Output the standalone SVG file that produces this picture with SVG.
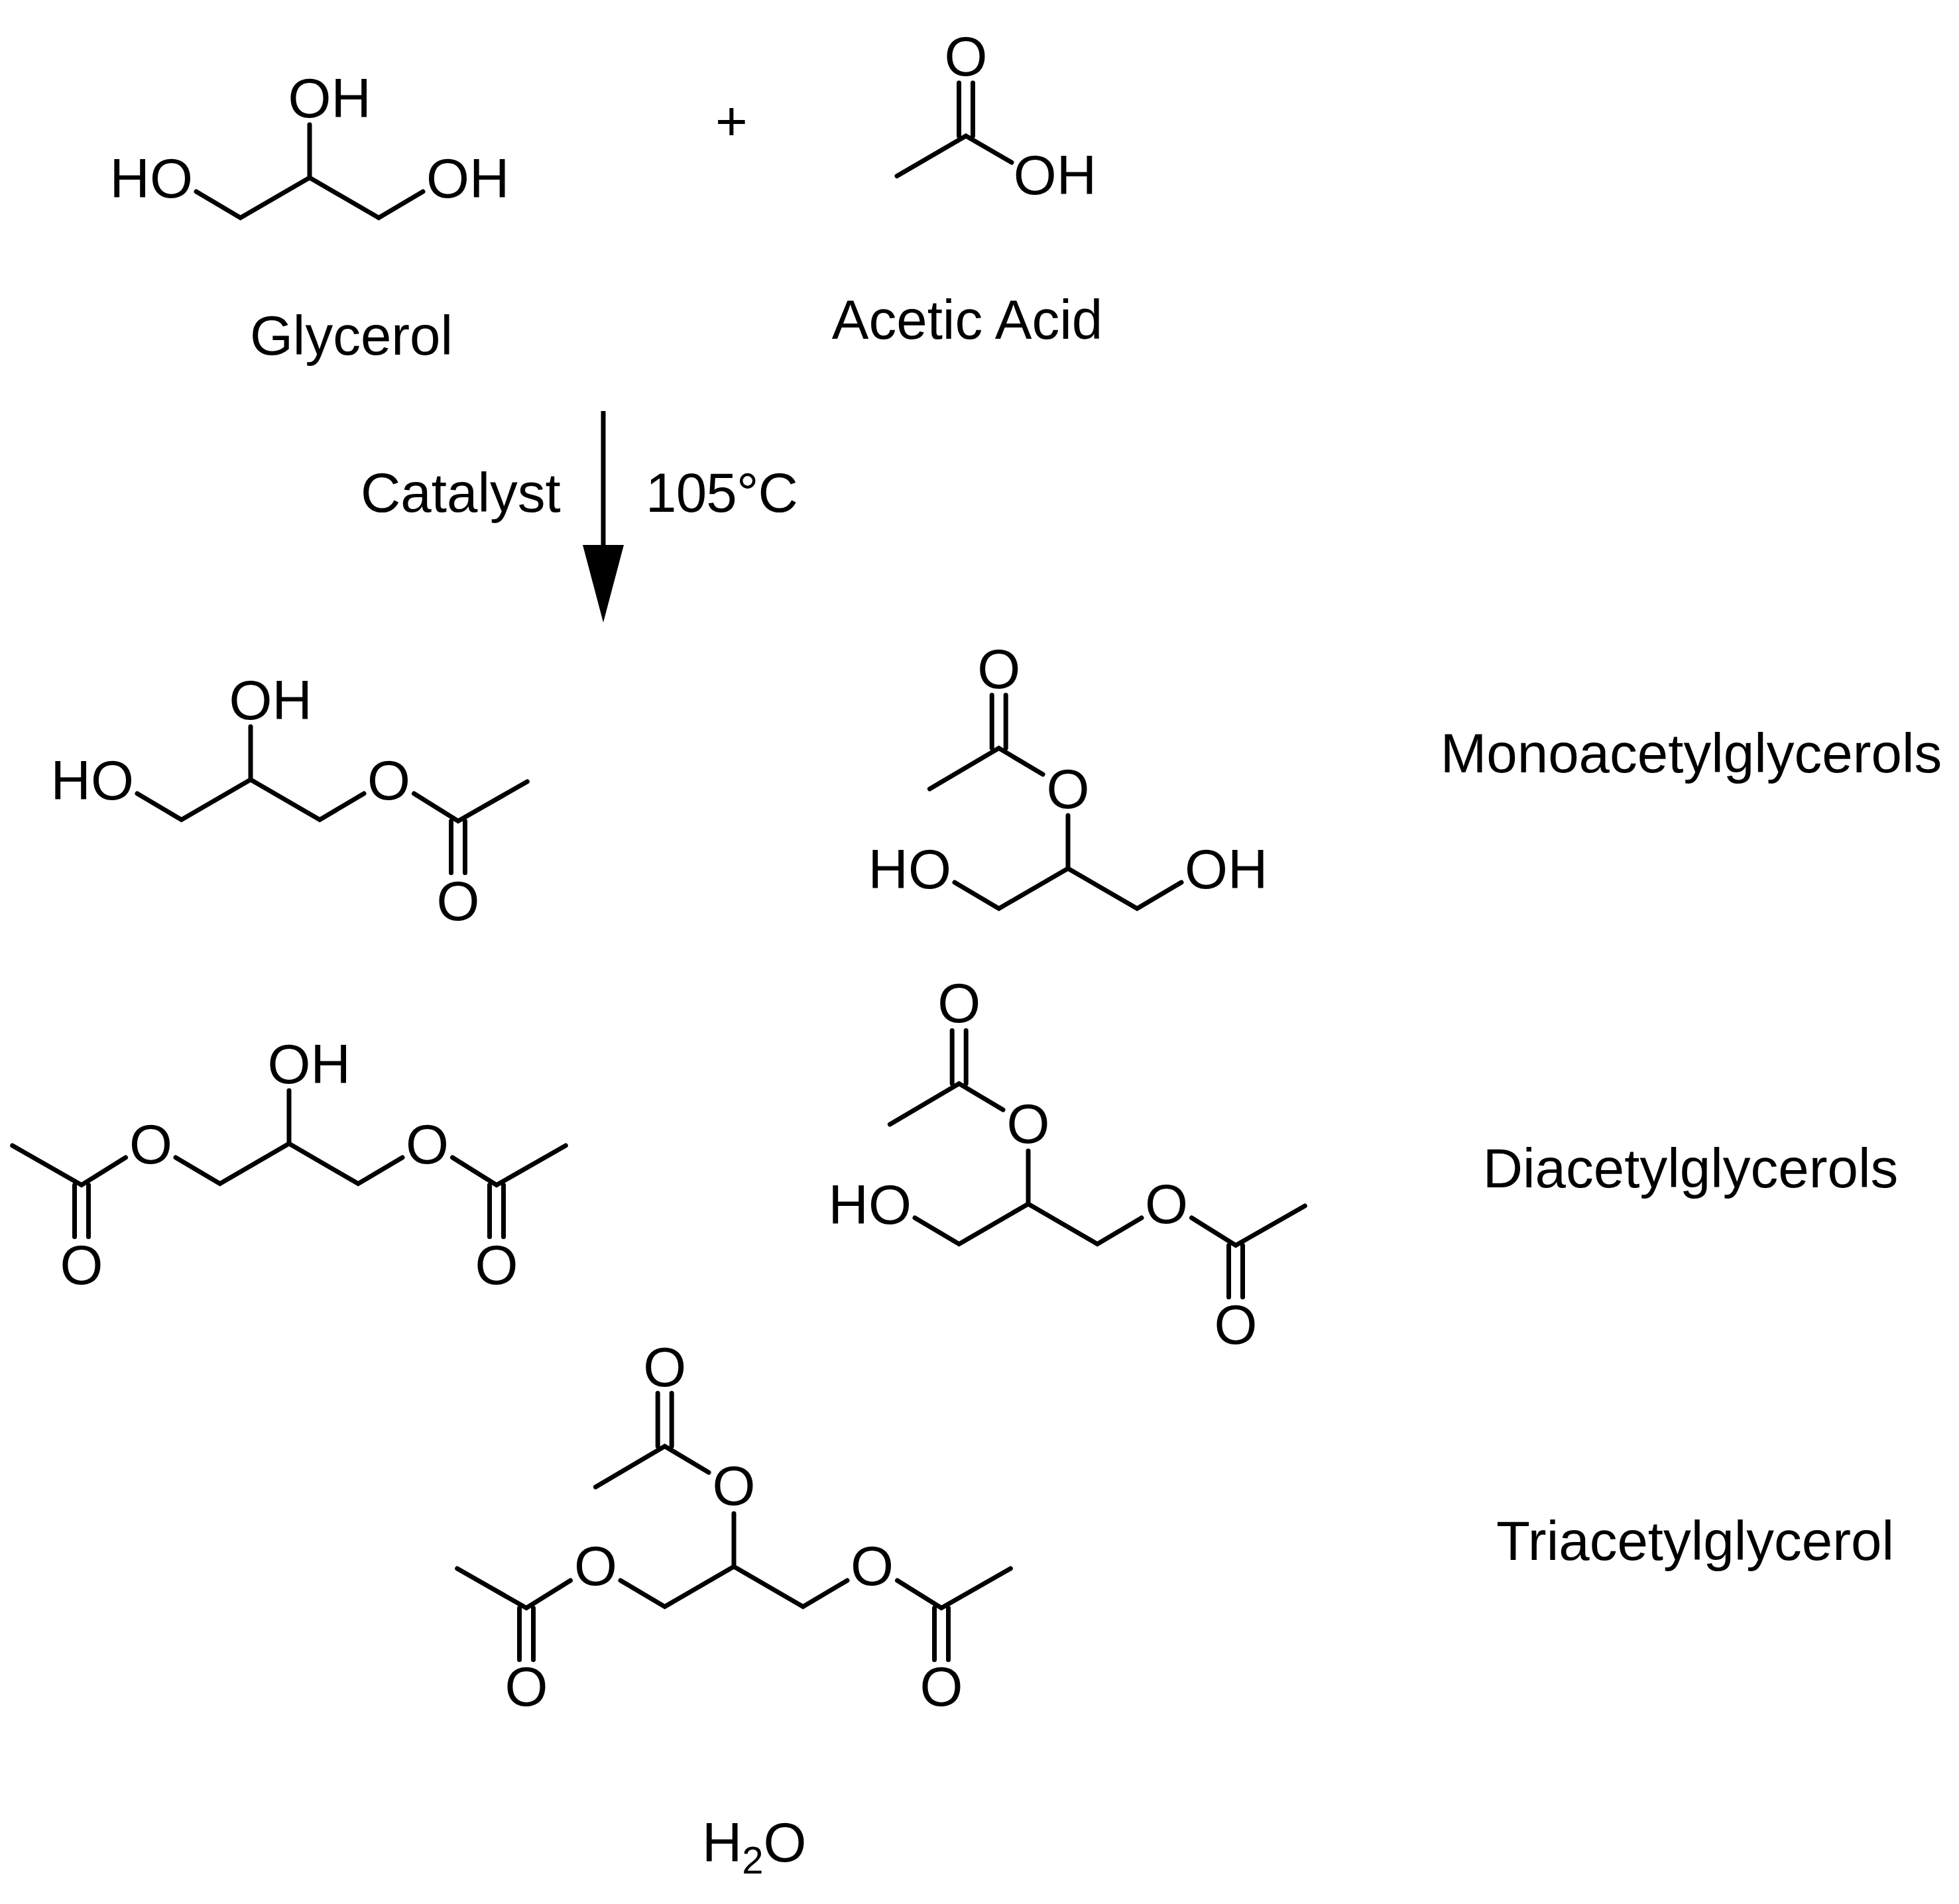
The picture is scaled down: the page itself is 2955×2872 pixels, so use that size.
<svg xmlns="http://www.w3.org/2000/svg" width="2955" height="2872" viewBox="0 0 2955 2872">
<defs>
<style>
text{font-family:"Liberation Sans",Arial,sans-serif;font-size:83.5px;fill:#000}
.m{text-anchor:middle}
.b{fill:none;stroke:#000;stroke-width:7;stroke-linejoin:miter;stroke-linecap:round}
.sub{font-size:58px}
</style>
<marker id="head" markerUnits="userSpaceOnUse" markerWidth="117" markerHeight="62" refX="0" refY="31" orient="auto" viewBox="0 0 117 62"><path d="M0,0L117,31L0,62Z" fill="#000"/></marker>
</defs>
<rect width="2955" height="2872" fill="#fff"/>
<g id="connectors"><path class="b" d="M910,620V822" marker-end="url(#head)" style="stroke-linecap:butt"/></g>
<g id="glycerol"><path class="b" d="M296,289L362.7,328.5L467,268L571.3,328.5L638,289M467,268V188"/>
<text x="434.5" y="177">OH</text><text x="165.6" y="298">HO</text><text x="643.1" y="298">OH</text>
<text class="m" x="530" y="535">Glycerol</text></g>
<g id="plus"><text class="m" x="1103.5" y="211">+</text></g>
<g id="acetic-acid"><path class="b" d="M1353,265.5L1457,205L1526,245M1446.5,205V125M1467.5,205V125"/>
<text class="m" x="1457" y="114">O</text><text x="1528.8" y="293">OH</text>
<text class="m" x="1459" y="511">Acetic Acid</text></g>
<g id="conditions"><text x="544" y="772">Catalyst</text><text x="974" y="772" letter-spacing="-0.8">105°C</text></g>
<g id="monoacetyl-1"><path class="b" d="M207,1197L273.7,1236.5L378,1176L482.3,1236.5L549,1197M378,1176V1096M624.5,1197L691,1238.5L795.3,1179M680.5,1238.5V1316.5M701.5,1238.5V1316.5"/>
<text x="345.5" y="1085">OH</text><text x="76.6" y="1206">HO</text><text class="m" x="586.6" y="1206">O</text><text class="m" x="691" y="1387.5">O</text></g>
<g id="monoacetyl-2"><path class="b" d="M1440,1331L1506.7,1370.5L1611,1310L1715.3,1370.5L1782,1331M1611,1310V1230M1573,1168L1506.7,1128.5L1402.4,1190M1496.2,1128.5V1048.5M1517.2,1128.5V1048.5"/>
<text class="m" x="1611" y="1219">O</text><text class="m" x="1506.7" y="1037.5">O</text><text x="1309.6" y="1340">HO</text><text x="1787.1" y="1340">OH</text></g>
<g id="label-mono"><text class="m" x="2551" y="1165">Monoacetylglycerols</text></g>
<g id="diacetyl-1"><path class="b" d="M265,1746L331.7,1785.5L436,1725L540.3,1785.5L607,1746M436,1725V1645M682.5,1746L749,1787.5L853.3,1728M738.5,1787.5V1865.5M759.5,1787.5V1865.5M189.5,1746L123,1787.5L18.7,1728M112.5,1787.5V1865.5M133.5,1787.5V1865.5"/>
<text x="403.5" y="1634">OH</text><text class="m" x="227.4" y="1755">O</text><text class="m" x="644.6" y="1755">O</text><text class="m" x="123" y="1936.5">O</text><text class="m" x="749" y="1936.5">O</text></g>
<g id="diacetyl-2"><path class="b" d="M1380,1837L1446.7,1876.5L1551,1816L1655.3,1876.5L1722,1837M1551,1816V1736M1797.5,1837L1864,1878.5L1968.3,1819M1853.5,1878.5V1956.5M1874.5,1878.5V1956.5M1513,1674L1446.7,1634.5L1342.4,1696M1436.2,1634.5V1554.5M1457.2,1634.5V1554.5"/>
<text class="m" x="1551" y="1724">O</text><text class="m" x="1446.7" y="1542">O</text><text x="1249.6" y="1846">HO</text><text class="m" x="1759.6" y="1845">O</text><text class="m" x="1864" y="2027">O</text></g>
<g id="label-di"><text class="m" x="2550" y="1791">Diacetylglycerols</text></g>
<g id="triacetyl"><path class="b" d="M936,2384L1002.7,2423.5L1107,2363L1211.3,2423.5L1278,2384M1107,2363V2283M1353.5,2384L1420,2425.5L1524.3,2366M1409.5,2425.5V2503.5M1430.5,2425.5V2503.5M860.5,2384L794,2425.5L689.7,2366M783.5,2425.5V2503.5M804.5,2425.5V2503.5M1069,2221L1002.7,2181.5L898.4,2243M992.2,2181.5V2101.5M1013.2,2181.5V2101.5"/>
<text class="m" x="1107" y="2270">O</text><text class="m" x="1002.7" y="2090.5">O</text><text class="m" x="898.4" y="2391">O</text><text class="m" x="1315.6" y="2391">O</text><text class="m" x="794" y="2573">O</text><text class="m" x="1420" y="2573">O</text></g>
<g id="label-tri"><text class="m" x="2557" y="2353">Triacetylglycerol</text></g>
<g id="water"><text x="1059" y="2808">H<tspan class="sub" dy="18">2</tspan><tspan dy="-18">O</tspan></text></g>
</svg>
